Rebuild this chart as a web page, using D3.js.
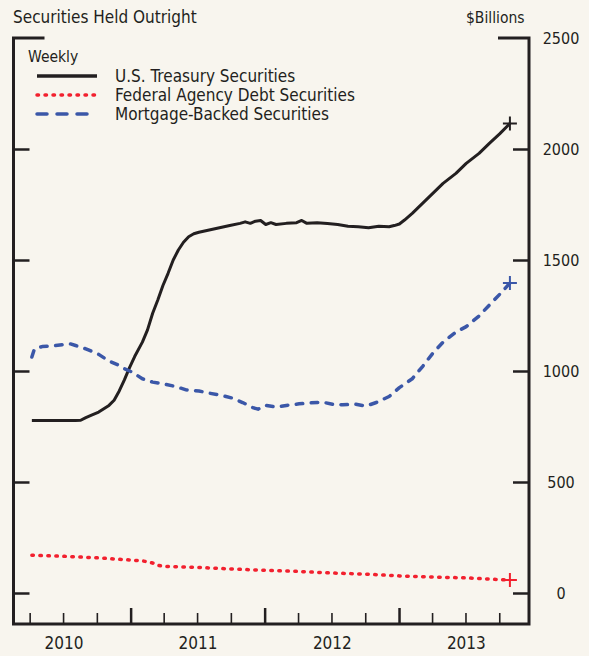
<!DOCTYPE html>
<html>
<head>
<meta charset="utf-8">
<script src="https://cdn.jsdelivr.net/npm/d3@7"></script>
<style>
  html, body { margin: 0; padding: 0; background: #f8f5ee; }
  svg { display: block; }
  text { font-family: "Liberation Sans Narrow", "DejaVu Sans Condensed", Roboto, sans-serif; fill: #231f20; }
</style>
</head>
<body>
<svg id="chart" width="589" height="656"></svg>
<script>
// weekly holdings, $ billions
const treasury = [
  ["2010-04-07", 777], ["2010-05-05", 777], ["2010-06-02", 777], ["2010-07-07", 777],
  ["2010-08-04", 777], ["2010-08-18", 778], ["2010-09-01", 790], ["2010-09-15", 800],
  ["2010-10-06", 815], ["2010-10-20", 830], ["2010-11-03", 845], ["2010-11-17", 868],
  ["2010-12-01", 910], ["2010-12-15", 960], ["2010-12-29", 1015], ["2011-01-12", 1065],
  ["2011-02-02", 1130], ["2011-02-16", 1185], ["2011-03-02", 1260], ["2011-03-16", 1320],
  ["2011-03-30", 1385], ["2011-04-13", 1440], ["2011-04-27", 1500], ["2011-05-11", 1545],
  ["2011-05-25", 1580], ["2011-06-08", 1605], ["2011-06-22", 1618], ["2011-07-06", 1625],
  ["2011-08-03", 1635], ["2011-08-31", 1645], ["2011-09-28", 1655], ["2011-10-26", 1665],
  ["2011-11-09", 1672], ["2011-11-23", 1665], ["2011-12-07", 1675], ["2011-12-21", 1678],
  ["2012-01-04", 1660], ["2012-01-18", 1668], ["2012-02-01", 1660], ["2012-02-29", 1665],
  ["2012-03-28", 1668], ["2012-04-11", 1678], ["2012-04-25", 1665], ["2012-05-23", 1668],
  ["2012-06-20", 1664], ["2012-07-18", 1660], ["2012-08-15", 1652], ["2012-09-12", 1650],
  ["2012-10-10", 1645], ["2012-11-07", 1652], ["2012-12-05", 1650], ["2012-12-19", 1655],
  ["2013-01-02", 1662], ["2013-01-16", 1680], ["2013-02-06", 1710], ["2013-03-06", 1755],
  ["2013-04-03", 1800], ["2013-05-01", 1845], ["2013-06-05", 1890], ["2013-07-03", 1935],
  ["2013-08-07", 1980], ["2013-09-04", 2025], ["2013-10-02", 2068], ["2013-10-30", 2115]
];
const agency = [
  ["2010-04-07", 170], ["2010-07-07", 165], ["2010-10-06", 158], ["2011-01-05", 148],
  ["2011-02-02", 145], ["2011-03-02", 135], ["2011-03-16", 125], ["2011-03-30", 120],
  ["2011-07-06", 115], ["2011-10-05", 108], ["2012-01-04", 102], ["2012-04-04", 97],
  ["2012-07-04", 90], ["2012-10-03", 85], ["2013-01-02", 77], ["2013-04-03", 72],
  ["2013-07-03", 68], ["2013-09-04", 63], ["2013-10-30", 58]
];
const mbs = [
  ["2010-04-07", 1063], ["2010-04-14", 1099], ["2010-05-05", 1110], ["2010-06-02", 1113],
  ["2010-07-07", 1120], ["2010-07-21", 1122], ["2010-08-04", 1115], ["2010-09-01", 1100],
  ["2010-10-06", 1075], ["2010-11-03", 1045], ["2010-12-01", 1025], ["2010-12-15", 1010],
  ["2011-01-05", 995], ["2011-02-02", 965], ["2011-03-02", 950], ["2011-04-06", 940],
  ["2011-05-04", 930], ["2011-06-01", 915], ["2011-07-06", 910], ["2011-08-03", 900],
  ["2011-08-31", 892], ["2011-10-05", 878], ["2011-11-02", 858], ["2011-11-30", 835],
  ["2011-12-14", 828], ["2012-01-04", 845], ["2012-02-01", 838], ["2012-02-29", 845],
  ["2012-04-04", 852], ["2012-05-02", 856], ["2012-06-06", 860], ["2012-07-04", 850],
  ["2012-08-01", 848], ["2012-09-05", 850], ["2012-10-03", 842], ["2012-10-31", 858],
  ["2012-12-05", 885], ["2013-01-02", 925], ["2013-02-06", 965], ["2013-03-06", 1020],
  ["2013-04-03", 1080], ["2013-05-01", 1130], ["2013-06-05", 1175], ["2013-07-03", 1200],
  ["2013-08-07", 1248], ["2013-09-04", 1297], ["2013-10-02", 1345], ["2013-10-30", 1396]
];
const yTicks = [0, 500, 1000, 1500, 2000, 2500];
const years = ["2010", "2011", "2012", "2013"];
const legendLabels = ["U.S. Treasury Securities", "Federal Agency Debt Securities", "Mortgage-Backed Securities"];

const parse = d3.timeParse("%Y-%m-%d");
const svg = d3.select("#chart");
const ink = "#231f20";

const x = d3.scaleTime()
  .domain([parse("2010-02-16"), parse("2013-12-21")])
  .range([13.5, 529]);
const y = d3.scaleLinear().domain([0, 2500]).range([593, 38]);
const bottom = 624;

// frame with the top brackets
const [x0, x1] = x.range();
svg.append("path")
  .attr("d", `M${x0 + 31},${y(2500)}H${x0}V${bottom}H${x1}V${y(2500)}H${x1 - 31}`)
  .attr("fill", "none").attr("stroke", ink).attr("stroke-width", 3);

// left ticks
const left = svg.append("g").attr("transform", `translate(${x0},0)`)
  .call(d3.axisLeft(y).tickValues(yTicks.slice(0, -1)).tickSize(-16).tickFormat(""));
// right ticks + labels
const right = svg.append("g").attr("transform", `translate(${x1},0)`)
  .call(d3.axisRight(y).tickValues(yTicks).tickSize(-16).tickPadding(0).tickFormat(d3.format("d")));
right.selectAll(".tick text")
  .attr("x", 32).attr("text-anchor", "middle").attr("dy", "0.36em")
  .attr("font-size", 16).attr("fill", ink);
right.selectAll(".tick").filter(d => d === 2500).select("line").remove();
[left, right].forEach(g => {
  g.select(".domain").remove();
  g.selectAll(".tick line").attr("stroke", ink).attr("stroke-width", 2.5);
  g.attr("font-family", null);
});

// quarter ticks on the date axis
const quarters = x.ticks(d3.timeMonth.every(3));
const xa = svg.append("g").attr("transform", `translate(0,${bottom})`)
  .call(d3.axisBottom(x).tickValues(quarters).tickSize(-11).tickFormat(""));
xa.select(".domain").remove();
xa.selectAll(".tick line")
  .attr("stroke", ink)
  .attr("stroke-width", d => d.getMonth() === 0 ? 2.5 : 1.6)
  .attr("y2", d => d.getMonth() === 0 ? -16 : -11);

// year labels centred in each year
const yl = svg.append("g").attr("transform", `translate(0,${bottom})`)
  .call(d3.axisBottom(x).tickValues(years.map(s => parse(s + "-07-02"))).tickSize(0).tickPadding(13)
    .tickFormat(d3.timeFormat("%Y")));
yl.select(".domain").remove();
yl.attr("font-family", null);
yl.selectAll("text").attr("font-size", 17).attr("fill", ink);

// titles
svg.append("text").attr("x", 13).attr("y", 23).attr("font-size", 17).text("Securities Held Outright");
svg.append("text").attr("x", 466).attr("y", 23).attr("font-size", 15.5).text("$Billions");

// series
const series = [
  { data: treasury, color: ink, dash: null, cap: "butt", width: 3 },
  { data: agency, color: "#f2202e", dash: "1.5,6.5", cap: "round", width: 3.5 },
  { data: mbs, color: "#3b57a8", dash: "6.5,8.5", cap: "round", width: 3.5 }
];
const line = d3.line().x(d => x(parse(d[0]))).y(d => y(d[1]));
series.forEach(s => {
  svg.append("path")
    .attr("d", line(s.data))
    .attr("fill", "none")
    .attr("stroke", s.color)
    .attr("stroke-width", s.width)
    .attr("stroke-linecap", s.cap)
    .attr("stroke-linejoin", "round")
    .attr("stroke-dasharray", s.dash);
  const last = s.data[s.data.length - 1];
  const px = x(parse(last[0])), py = y(last[1]);
  svg.append("path")
    .attr("d", `M${px - 7},${py}H${px + 7}M${px},${py - 7}V${py + 7}`)
    .attr("stroke", s.color).attr("stroke-width", 2);
});

// legend
const legend = svg.append("g");
legend.append("text").attr("x", 28).attr("y", 62).attr("font-size", 15.5).text("Weekly");
series.forEach((s, i) => {
  const ly = 76 + i * 19;
  legend.append("line")
    .attr("x1", 37).attr("x2", 97).attr("y1", ly).attr("y2", ly)
    .attr("stroke", s.color).attr("stroke-width", 3.5)
    .attr("stroke-linecap", s.cap)
    .attr("stroke-dasharray", i === 2 ? "10,10" : s.dash);
  legend.append("text").attr("x", 115).attr("y", ly + 6).attr("font-size", 17).text(legendLabels[i]);
});
</script>
</body>
</html>
